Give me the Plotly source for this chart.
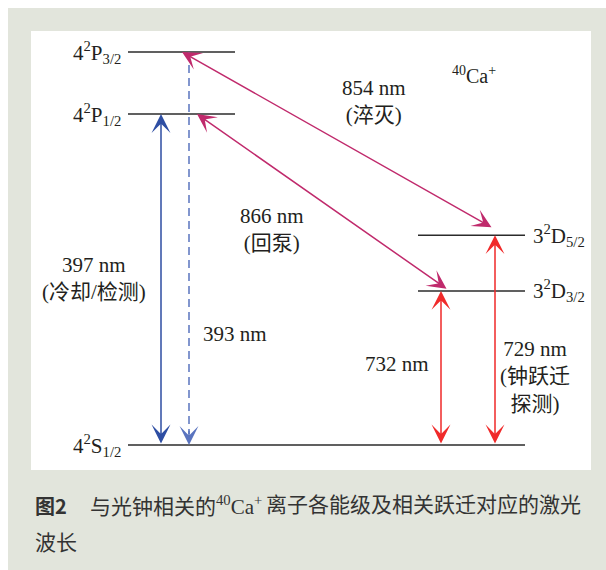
import plotly.graph_objects as go

W, H = 606, 570

# Energy levels of the 40Ca+ ion (schematic heights, ground state = 0)
level_keys = ["S12", "D32", "D52", "P12", "P32"]
level_labels = [
    "4<sup>2</sup>S<sub>1/2</sub>",
    "3<sup>2</sup>D<sub>3/2</sub>",
    "3<sup>2</sup>D<sub>5/2</sub>",
    "4<sup>2</sup>P<sub>1/2</sub>",
    "4<sup>2</sup>P<sub>3/2</sub>",
]
level_heights = [0, 39.2, 53.4, 84.2, 100]

# Laser transitions between the levels
wavelengths_nm = [397, 393, 866, 854, 732, 729]
trans_lower = ["S12", "S12", "D32", "D52", "S12", "S12"]
trans_upper = ["P12", "P32", "P12", "P32", "D32", "D52"]
trans_notes = ["冷却/检测", "", "回泵", "淬灭", "", "钟跃迁<br>探测"]

# ---- layout constants (pixel-like horizontal units, y in schematic height) ----
PX_PER_UNIT = 3.93
Y_GROUND_PX = 445
yr = [(Y_GROUND_PX - H) / PX_PER_UNIT, Y_GROUND_PX / PX_PER_UNIT]

level_span = {
    "S12": (128, 525), "D32": (418, 525), "D52": (418, 525),
    "P12": (128, 235), "P32": (128, 235),
}
label_side = {"S12": "left", "D32": "right", "D52": "right", "P12": "left", "P32": "left"}

# (x at lower level, x at upper level), colour, dash, heads, gap above lower level
trans_style = {
    397: dict(x=(161, 161), color="#2e4ea3", dash="solid", both=True, gap=0),
    393: dict(x=(189, 189), color="#5a74bf", dash="dash", both=False, gap=0),
    866: dict(x=(448, 197), color="#c02a6c", dash="solid", both=True, gap=0.3),
    854: dict(x=(493, 182), color="#c02a6c", dash="solid", both=True, gap=1.8),
    732: dict(x=(441, 441), color="#f02a2a", dash="solid", both=True, gap=0),
    729: dict(x=(495, 495), color="#f02a2a", dash="solid", both=True, gap=0),
}

# label centres in pixels
trans_label_pos = {
    397: (94, 278), 393: (235, 334), 866: (272, 230),
    854: (374, 101), 732: (397, 364), 729: (535, 377),
}

h = dict(zip(level_keys, level_heights))


def pxy(py):
    return 1 - py / H


SERIF = "'Liberation Serif', 'Times New Roman', 'DejaVu Serif', serif, 'Noto Sans CJK SC'"
TXT = "#231f20"
HEAD = 2.1

fig = go.Figure()
annotations = []

# Energy level lines and their names
for key, lab, ht in zip(level_keys, level_labels, level_heights):
    x0, x1 = level_span[key]
    fig.add_trace(go.Scatter(x=[x0, x1], y=[ht, ht], mode="lines",
                             line=dict(color="#2b2b2b", width=1.5),
                             hoverinfo="skip", showlegend=False))
    if label_side[key] == "left":
        annotations.append(dict(x=x0 - 5, y=ht, xref="x", yref="y", text=lab,
                                showarrow=False, xanchor="right", yanchor="middle",
                                font=dict(family=SERIF, size=21, color=TXT)))
    else:
        annotations.append(dict(x=x1 + 6, y=ht, xref="x", yref="y", text=lab,
                                showarrow=False, xanchor="left", yanchor="middle",
                                font=dict(family=SERIF, size=21, color=TXT)))

# Transition arrows
for wl, lo, up, note in zip(wavelengths_nm, trans_lower, trans_upper, trans_notes):
    st = trans_style[wl]
    xl, xu = st["x"]
    y_lo = h[lo] + st["gap"]
    y_up = h[up]
    if st["dash"] == "dash":
        # dashed shaft, head at the lower level only
        fig.add_trace(go.Scatter(x=[xu, xl], y=[y_up, y_lo + 2.8], mode="lines",
                                 line=dict(color=st["color"], width=1.5, dash="8px,5px"),
                                 hoverinfo="skip", showlegend=False))
        annotations.append(dict(x=xl, y=y_lo, ax=xl, ay=y_lo + 4.0,
                                xref="x", yref="y", axref="x", ayref="y", text="",
                                showarrow=True, arrowhead=3, arrowsize=HEAD,
                                arrowwidth=1.5, arrowcolor=st["color"],
                                standoff=0, startstandoff=0))
    else:
        annotations.append(dict(x=xu, y=y_up, ax=xl, ay=y_lo,
                                xref="x", yref="y", axref="x", ayref="y", text="",
                                showarrow=True, arrowhead=3, arrowsize=HEAD,
                                startarrowhead=3, startarrowsize=HEAD,
                                arrowside="end+start" if st["both"] else "end",
                                arrowwidth=1.5, arrowcolor=st["color"],
                                standoff=0, startstandoff=0))
    text = f"{wl} nm"
    if note:
        text += f"<br>({note})"
    px, py = trans_label_pos[wl]
    annotations.append(dict(x=px, y=pxy(py), xref="x", yref="paper", text=text,
                            showarrow=False, xanchor="center", yanchor="middle",
                            align="center",
                            font=dict(family=SERIF, size=21, color=TXT)))

# Ion label
annotations.append(dict(x=474, y=pxy(75), xref="x", yref="paper",
                        text="<sup>40</sup>Ca<sup>+</sup>", showarrow=False,
                        xanchor="center", yanchor="middle",
                        font=dict(family=SERIF, size=20, color=TXT)))

# Figure caption
CAP = dict(family=SERIF, size=21, color="#333333")
annotations += [
    dict(x=33 / W, y=pxy(505), xref="paper", yref="paper", text="<b>图2</b>",
         showarrow=False, xanchor="left", yanchor="middle",
         font=dict(family="'Noto Sans CJK SC'", size=20, color="#333333")),
    dict(x=88 / W, y=pxy(505), xref="paper", yref="paper",
         text="与光钟相关的<sup>40</sup>Ca<sup>+</sup>", showarrow=False,
         xanchor="left", yanchor="middle", font=CAP),
    dict(x=264 / W, y=pxy(505), xref="paper", yref="paper",
         text="离子各能级及相关跃迁对应的激光", showarrow=False,
         xanchor="left", yanchor="middle", font=CAP),
    dict(x=33 / W, y=pxy(543), xref="paper", yref="paper", text="波长",
         showarrow=False, xanchor="left", yanchor="middle", font=CAP),
]

shapes = [
    dict(type="rect", xref="paper", yref="paper", x0=8 / W, x1=1, y0=0, y1=pxy(8),
         fillcolor="#e2e5dc", line=dict(width=0), layer="below"),
    dict(type="rect", xref="paper", yref="paper", x0=31 / W, x1=591 / W,
         y0=pxy(470), y1=pxy(31), fillcolor="#ffffff", line=dict(width=0), layer="below"),
]

fig.update_layout(
    width=W, height=H, margin=dict(l=0, r=0, t=0, b=0),
    paper_bgcolor="#ffffff", plot_bgcolor="rgba(0,0,0,0)",
    xaxis=dict(range=[0, W], visible=False, fixedrange=True),
    yaxis=dict(range=yr, visible=False, fixedrange=True),
    annotations=annotations, shapes=shapes, showlegend=False,
)

fig.write_html("out.html")
